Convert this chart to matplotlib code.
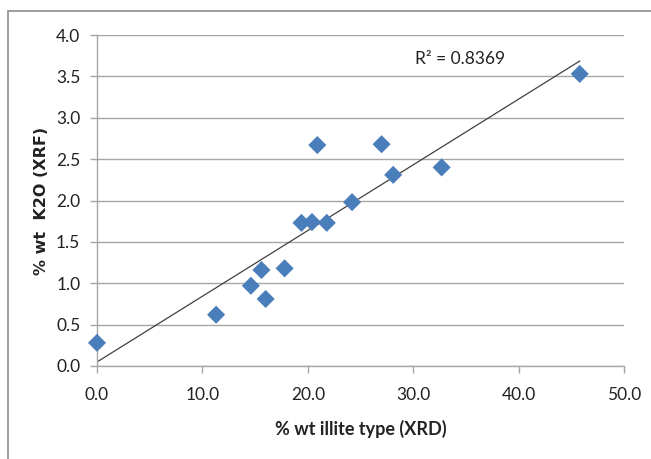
import numpy as np
import matplotlib
matplotlib.use("Agg")
import matplotlib.pyplot as plt
from matplotlib.patches import Rectangle

# Sample data: illite content by XRD vs K2O by XRF
illite_xrd = [0.0, 11.3, 14.6, 15.6, 16.0, 17.8, 19.4, 20.4, 21.8, 20.9,
              24.2, 27.0, 28.1, 32.7, 45.8]
k2o_xrf = [0.28, 0.62, 0.97, 1.16, 0.81, 1.18, 1.73, 1.74, 1.73, 2.67,
           1.98, 2.68, 2.31, 2.40, 3.53]
r2_label = "R² = 0.8369"
x_ticks = [0, 10, 20, 30, 40, 50]
y_ticks = [0.0, 0.5, 1.0, 1.5, 2.0, 2.5, 3.0, 3.5, 4.0]

narrow = ["Lato", "DejaVu Sans"]

fig = plt.figure(figsize=(6.51, 4.59), dpi=100)
fig.patch.set_facecolor("white")

# frame around the chart area
fig.patches.append(Rectangle((8 / 651, -0.1), 1.2, 1 - 11 / 459 + 0.1,
                             transform=fig.transFigure, fill=False,
                             edgecolor="#8c8c8c", linewidth=1.2))

ax = fig.add_axes([97 / 651, 1 - 366 / 459, (624 - 97) / 651, (366 - 35) / 459])

ax.scatter(illite_xrd, k2o_xrf, marker="D", s=85, color="#4a7ebb",
           edgecolors="none", zorder=3, clip_on=False)

# linear trend line over the data range
x = np.array(illite_xrd)
y = np.array(k2o_xrf)
slope, intercept = np.polyfit(x, y, 1)
xs = np.array([x.min(), x.max()])
ax.plot(xs, slope * xs + intercept, color="#404040", linewidth=0.9, zorder=2)

ax.text(460 / 651, 1 - 59 / 459, r2_label, transform=fig.transFigure,
        ha="center", va="center", fontsize=12.5, family=narrow, color="#222222")

ax.set_xlim(0, 50)
ax.set_ylim(0, 4.0)
ax.set_xticks(x_ticks)
ax.set_xticklabels([f"{v:.1f}" for v in x_ticks], family=narrow, fontsize=12.5)
ax.set_yticks(y_ticks)
ax.set_yticklabels([f"{v:.1f}" for v in y_ticks], family=narrow, fontsize=12.5)

ax.grid(axis="y", color="#a6a6a6", linewidth=1.0)
ax.set_axisbelow(True)
for side in ("top", "right"):
    ax.spines[side].set_visible(False)
for side in ("left", "bottom"):
    ax.spines[side].set_color("#a6a6a6")
    ax.spines[side].set_linewidth(1.0)
ax.tick_params(axis="both", colors="#a6a6a6", labelcolor="#222222",
               length=5, width=1.0, direction="out")
ax.tick_params(axis="x", pad=10)
ax.tick_params(axis="y", pad=7)

ax.set_xlabel("% wt illite type (XRD)", family=narrow, fontsize=13,
              fontweight="bold", labelpad=12, color="#222222")
ax.set_ylabel("% wt  K2O (XRF)", family="DejaVu Sans", fontsize=11.5,
              fontweight="bold", labelpad=5, color="#222222")

fig.savefig("out.png", dpi=100)
